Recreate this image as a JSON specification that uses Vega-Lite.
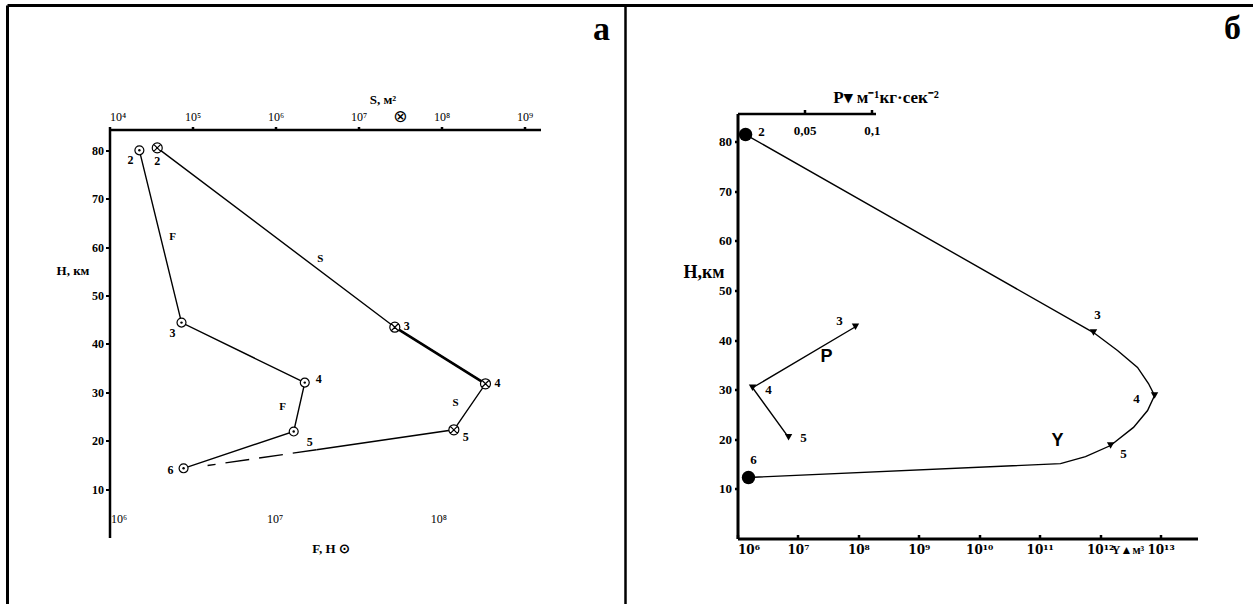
{
 "$schema": "https://vega.github.io/schema/vega-lite/v6.json",
 "width": 1255, "height": 606,
 "autosize": {"type": "fit", "contains": "padding"},
 "padding": {"left": 5.5, "top": 3.5, "right": 0, "bottom": 0},
 "background": "white",
 "config": {
  "view": {"stroke": null},
  "axis": {"grid": false, "domainColor": "black", "tickColor": "black", "labelColor": "black", "titleColor": "black", "labelFont": "Liberation Serif", "titleFont": "Liberation Serif", "titleFontWeight": "bold"},
  "text": {"font": "Liberation Serif", "fontWeight": "bold", "color": "black"},
  "line": {"color": "black", "strokeWidth": 1.4},
  "point": {"color": "black", "opacity": 1}
 },
 "datasets": {
  "S_line": [
   {"seq": 1, "pt": "2", "S": 37600, "H": 80.5},
   {"seq": 2, "pt": "3", "S": 27400000, "H": 43.45},
   {"seq": 3, "pt": "4", "S": 339000000, "H": 31.76},
   {"seq": 4, "pt": "5", "S": 141000000, "H": 22.25},
   {"seq": 5, "pt": "", "S": 3120000, "H": 18.14}
  ],
  "S_dash": [
   {"seq": 1, "S": 3120000, "H": 18.14},
   {"seq": 2, "S": 152000, "H": 14.88}
  ],
  "S_notes": [
   {"txt": "S", "S": 3480000, "H": 57.6},
   {"txt": "S", "S": 148000000, "H": 27.7}
  ],
  "S_sym": [{"txt": "⊗", "S": 32000000, "H": 86.8}],
  "panel_a": [{"txt": "а", "S": 8470000000, "H": 102.7}],
  "F_line": [
   {"seq": 1, "pt": "2", "F": 1500000, "H": 80.0},
   {"seq": 2, "pt": "3", "F": 2710000, "H": 44.4},
   {"seq": 3, "pt": "4", "F": 15300000, "H": 32.0},
   {"seq": 4, "pt": "5", "F": 13100000, "H": 21.9},
   {"seq": 5, "pt": "6", "F": 2790000, "H": 14.3}
  ],
  "F_notes": [
   {"txt": "F", "F": 2390000, "H": 62.0},
   {"txt": "F", "F": 11200000, "H": 26.9}
  ],
  "P_line": [
   {"seq": 1, "pt": "3", "P": 0.0878, "H": 42.7},
   {"seq": 2, "pt": "4", "P": 0.0112, "H": 30.4},
   {"seq": 3, "pt": "5", "P": 0.038, "H": 20.4}
  ],
  "P_notes": [{"txt": "P", "P": 0.0662, "H": 36.5}],
  "Y_line": [
   {"seq": 1, "pt": "2", "Y": 1360000, "H": 81.45},
   {"seq": 2, "pt": "3", "Y": 778000000000, "H": 41.53},
   {"seq": 3, "pt": "", "Y": 1940000000000, "H": 37.9},
   {"seq": 4, "pt": "", "Y": 4160000000000, "H": 34.5},
   {"seq": 5, "pt": "", "Y": 6320000000000, "H": 31.25},
   {"seq": 6, "pt": "4", "Y": 7960000000000, "H": 28.83},
   {"seq": 7, "pt": "", "Y": 6100000000000, "H": 25.8},
   {"seq": 8, "pt": "", "Y": 3570000000000, "H": 22.4},
   {"seq": 9, "pt": "5", "Y": 1490000000000, "H": 18.75},
   {"seq": 10, "pt": "", "Y": 574000000000, "H": 16.5},
   {"seq": 11, "pt": "", "Y": 221000000000, "H": 15.1},
   {"seq": 12, "pt": "6", "Y": 1520000, "H": 12.3}
  ],
  "Y_notes": [{"txt": "Y", "Y": 197000000000, "H": 19.76}],
  "panel_b": [{"txt": "б", "Y": 155000000000000, "H": 100.8}]
 },
 "resolve": {"scale": {"x": "independent", "y": "independent"}, "axis": {"x": "independent", "y": "independent"}},
 "layer": [
  {
   "data": {"values": [{"frame": "table"}]},
   "encoding": {
    "x": {"type": "quantitative", "scale": {"domain": [0, 1], "range": [0, 618]}, "axis": null},
    "y": {"type": "quantitative", "scale": {"domain": [0, 1], "range": [0, 100]}, "axis": null}
   },
   "layer": [
    {"mark": {"type": "rule", "color": "black", "strokeWidth": 3}, "encoding": {"x": {"datum": 0, "type": "quantitative"}}},
    {"mark": {"type": "rule", "color": "black", "strokeWidth": 2.5}, "encoding": {"x": {"datum": 1, "type": "quantitative"}}},
    {"mark": {"type": "rule", "color": "black", "strokeWidth": 3}, "encoding": {"y": {"datum": 0, "type": "quantitative"}}}
   ]
  },
  {
   "data": {"name": "S_line"},
   "encoding": {
    "x": {"field": "S", "type": "quantitative",
     "scale": {"type": "log", "domain": [10000, 1560000000], "range": [102, 533], "nice": false},
     "axis": {"orient": "top", "offset": -124, "values": [10000, 100000, 1000000, 10000000, 100000000, 1000000000],
      "labelExpr": "'10' + (round(log(datum.value)/LN10) >= 10 ? '¹' : '') + ['⁰','¹','²','³','⁴','⁵','⁶','⁷','⁸','⁹'][round(log(datum.value)/LN10) % 10]",
      "tickSize": 3, "tickWidth": 2.5, "domainWidth": 2.5, "labelFontSize": 12, "labelPadding": 3,
      "title": "S, м²", "titleFontSize": 13, "titleX": 375, "titleY": -30, "titleBaseline": "middle", "titleAlign": "center"}},
    "y": {"field": "H", "type": "quantitative",
     "scale": {"domain": [0, 84.3], "range": [532, 124], "nice": false, "zero": false},
     "axis": {"orient": "left", "offset": -102, "values": [10, 20, 30, 40, 50, 60, 70, 80], "tickSize": 4, "tickWidth": 2, "domainWidth": 2.5,
      "labelFontSize": 12, "labelFontWeight": "bold", "labelPadding": 2,
      "title": "Н, км", "titleFontSize": 13, "titleAngle": 0, "titleX": -37, "titleY": 265, "titleAlign": "center", "titleBaseline": "middle"}}
   },
   "layer": [
    {"mark": {"type": "line"}, "encoding": {"order": {"field": "seq", "type": "quantitative"}}},
    {"transform": [{"filter": "datum.seq >= 2 && datum.seq <= 3"}], "mark": {"type": "line", "strokeWidth": 2.6}, "encoding": {"order": {"field": "seq", "type": "quantitative"}}},
    {"data": {"name": "S_dash"}, "mark": {"type": "line", "strokeDash": [24, 10]}, "encoding": {"order": {"field": "seq", "type": "quantitative"}}},
    {"transform": [{"filter": "datum.pt != ''"}], "mark": {"type": "point", "shape": "M1,0A1,1,0,1,1,-1,0A1,1,0,1,1,1,0Z M-0.7,-0.7L0.7,0.7M-0.7,0.7L0.7,-0.7", "filled": true, "fill": "white", "stroke": "black", "strokeWidth": 1.2, "size": 100}},
    {"transform": [{"filter": "datum.pt == '2'"}], "mark": {"type": "text", "dy": 13, "fontSize": 12}, "encoding": {"text": {"field": "pt"}}},
    {"transform": [{"filter": "datum.pt == '3' || datum.pt == '4'"}], "mark": {"type": "text", "dx": 12, "dy": -1, "fontSize": 12}, "encoding": {"text": {"field": "pt"}}},
    {"transform": [{"filter": "datum.pt == '5'"}], "mark": {"type": "text", "dx": 12, "dy": 7, "fontSize": 12}, "encoding": {"text": {"field": "pt"}}},
    {"data": {"name": "S_notes"}, "mark": {"type": "text", "fontSize": 11}, "encoding": {"text": {"field": "txt"}}},
    {"data": {"name": "S_sym"}, "mark": {"type": "text", "fontSize": 17, "font": "DejaVu Sans", "fontWeight": "normal"}, "encoding": {"text": {"field": "txt"}}},
    {"data": {"name": "panel_a"}, "mark": {"type": "text", "fontSize": 34, "baseline": "alphabetic"}, "encoding": {"text": {"field": "txt"}}}
   ]
  },
  {
   "data": {"name": "F_line"},
   "encoding": {
    "x": {"field": "F", "type": "quantitative",
     "scale": {"type": "log", "domain": [1000000, 419000000], "range": [103, 533], "nice": false},
     "axis": {"orient": "top", "offset": -505, "values": [1000000, 10000000, 100000000],
      "labelExpr": "'10' + (round(log(datum.value)/LN10) >= 10 ? '¹' : '') + ['⁰','¹','²','³','⁴','⁵','⁶','⁷','⁸','⁹'][round(log(datum.value)/LN10) % 10]",
      "domain": false, "ticks": false, "tickSize": 0, "labelFontSize": 12, "labelBaseline": "top", "labelPadding": -3,
      "title": "F, Н ⊙", "titleFontSize": 13, "titleX": 323, "titleY": 38, "titleBaseline": "middle", "titleAlign": "center"}},
    "y": {"field": "H", "type": "quantitative", "scale": {"domain": [0, 84.3], "range": [532, 124], "nice": false, "zero": false}, "axis": null}
   },
   "layer": [
    {"mark": {"type": "line"}, "encoding": {"order": {"field": "seq", "type": "quantitative"}}},
    {"mark": {"type": "point", "shape": "circle", "filled": true, "fill": "white", "stroke": "black", "strokeWidth": 1.2, "size": 80}},
    {"mark": {"type": "point", "shape": "circle", "filled": true, "fill": "black", "size": 6}},
    {"transform": [{"filter": "datum.pt == '2' || datum.pt == '3'"}], "mark": {"type": "text", "dx": -9, "dy": 10, "fontSize": 12}, "encoding": {"text": {"field": "pt"}}},
    {"transform": [{"filter": "datum.pt == '4'"}], "mark": {"type": "text", "dx": 14, "dy": -4, "fontSize": 12}, "encoding": {"text": {"field": "pt"}}},
    {"transform": [{"filter": "datum.pt == '5'"}], "mark": {"type": "text", "dx": 16, "dy": 10, "fontSize": 12}, "encoding": {"text": {"field": "pt"}}},
    {"transform": [{"filter": "datum.pt == '6'"}], "mark": {"type": "text", "dx": -13, "dy": 2, "fontSize": 12}, "encoding": {"text": {"field": "pt"}}},
    {"data": {"name": "F_notes"}, "mark": {"type": "text", "fontSize": 11}, "encoding": {"text": {"field": "txt"}}}
   ]
  },
  {
   "data": {"name": "P_line"},
   "encoding": {
    "x": {"field": "P", "type": "quantitative",
     "scale": {"domain": [0, 0.1027], "range": [730, 868], "nice": false, "zero": false},
     "axis": {"orient": "top", "offset": -108, "values": [0.05, 0.1],
      "labelExpr": "replace(format(datum.value, '.2~f'), '.', ',')",
      "tickSize": 4, "tickWidth": 2.5, "domainWidth": 2.5, "labelFontSize": 13, "labelFontWeight": "bold", "labelPadding": -28,
      "title": "P▾ м⁻¹кг·сек⁻²", "titleFontSize": 17, "titleX": 878, "titleY": -16, "titleBaseline": "middle", "titleAlign": "center"}},
    "y": {"field": "H", "type": "quantitative", "scale": {"domain": [0, 85.7], "range": [533, 108], "nice": false, "zero": false}, "axis": null}
   },
   "layer": [
    {"mark": {"type": "line"}, "encoding": {"order": {"field": "seq", "type": "quantitative"}}},
    {"mark": {"type": "point", "shape": "triangle-down", "filled": true, "size": 55}},
    {"transform": [{"filter": "datum.pt == '3'"}], "mark": {"type": "text", "dx": -16, "dy": -6, "fontSize": 13}, "encoding": {"text": {"field": "pt"}}},
    {"transform": [{"filter": "datum.pt == '4'"}], "mark": {"type": "text", "dx": 16, "dy": 2, "fontSize": 13}, "encoding": {"text": {"field": "pt"}}},
    {"transform": [{"filter": "datum.pt == '5'"}], "mark": {"type": "text", "dx": 15, "dy": 1, "fontSize": 13}, "encoding": {"text": {"field": "pt"}}},
    {"data": {"name": "P_notes"}, "mark": {"type": "text", "fontSize": 18, "font": "Liberation Sans"}, "encoding": {"text": {"field": "txt"}}}
   ]
  },
  {
   "data": {"name": "Y_line"},
   "encoding": {
    "x": {"field": "Y", "type": "quantitative",
     "scale": {"type": "log", "domain": [1000000, 40900000000000], "range": [730, 1190], "nice": false},
     "axis": {"orient": "top", "offset": -533, "values": [1000000, 10000000, 100000000, 1000000000, 10000000000, 100000000000, 1000000000000, 10000000000000],
      "labelExpr": "'10' + (round(log(datum.value)/LN10) >= 10 ? '¹' : '') + ['⁰','¹','²','³','⁴','⁵','⁶','⁷','⁸','⁹'][round(log(datum.value)/LN10) % 10]",
      "tickSize": 4, "tickWidth": 2.5, "domainWidth": 3, "labelFont": "DejaVu Serif", "labelFontSize": 12, "labelFontWeight": "bold", "labelBaseline": "top", "labelPadding": -10,
      "title": "Y▲м³", "titleFontSize": 12, "titleX": 1120, "titleY": 11, "titleBaseline": "middle", "titleAlign": "center"}},
    "y": {"field": "H", "type": "quantitative",
     "scale": {"domain": [0, 85.7], "range": [533, 108], "nice": false, "zero": false},
     "axis": {"orient": "left", "offset": -730, "values": [10, 20, 30, 40, 50, 60, 70, 80], "tickSize": 3, "tickWidth": 2.5, "domainWidth": 3,
      "labelFontSize": 13, "labelFontWeight": "bold", "labelPadding": 3,
      "title": "Н,км", "titleFontSize": 18, "titleAngle": 0, "titleX": -34, "titleY": 267, "titleAlign": "center", "titleBaseline": "middle"}}
   },
   "layer": [
    {"mark": {"type": "line"}, "encoding": {"order": {"field": "seq", "type": "quantitative"}}},
    {"transform": [{"filter": "datum.pt == '3' || datum.pt == '4' || datum.pt == '5'"}], "mark": {"type": "point", "shape": "triangle-down", "filled": true, "size": 55}},
    {"transform": [{"filter": "datum.pt == '2' || datum.pt == '6'"}], "mark": {"type": "point", "shape": "circle", "filled": true, "size": 180}},
    {"transform": [{"filter": "datum.pt == '2'"}], "mark": {"type": "text", "dx": 16, "dy": -3, "fontSize": 13}, "encoding": {"text": {"field": "pt"}}},
    {"transform": [{"filter": "datum.pt == '6'"}], "mark": {"type": "text", "dx": 5, "dy": -18, "fontSize": 13}, "encoding": {"text": {"field": "pt"}}},
    {"transform": [{"filter": "datum.pt == '3'"}], "mark": {"type": "text", "dx": 4, "dy": -18, "fontSize": 13}, "encoding": {"text": {"field": "pt"}}},
    {"transform": [{"filter": "datum.pt == '4'"}], "mark": {"type": "text", "dx": -18, "dy": 3, "fontSize": 13}, "encoding": {"text": {"field": "pt"}}},
    {"transform": [{"filter": "datum.pt == '5'"}], "mark": {"type": "text", "dx": 13, "dy": 8, "fontSize": 13}, "encoding": {"text": {"field": "pt"}}},
    {"data": {"name": "Y_notes"}, "mark": {"type": "text", "fontSize": 18, "font": "Liberation Sans"}, "encoding": {"text": {"field": "txt"}}},
    {"data": {"name": "panel_b"}, "mark": {"type": "text", "fontSize": 34, "baseline": "alphabetic"}, "encoding": {"text": {"field": "txt"}}}
   ]
  }
 ]
}
